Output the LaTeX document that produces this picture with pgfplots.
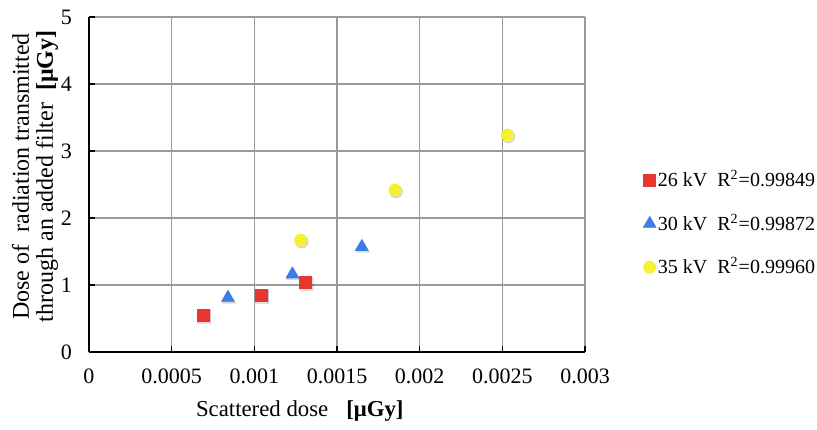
\documentclass[border=0pt]{standalone}
\usepackage{pgfplots}
\pgfplotsset{compat=1.18}
\usepackage{fontspec}
\setmainfont{Liberation Serif}
\definecolor{sqred}{HTML}{E8352E}
\definecolor{triblue}{HTML}{3A7DE6}
\definecolor{dotyellow}{HTML}{F6F032}
\definecolor{gridgray}{HTML}{9A9A9A}

\begin{document}
\begin{tikzpicture}
\begin{axis}[
  at={(0,0)}, anchor=south west,
  scale only axis,
  width=248pt, height=167.5pt,
  xmin=0, xmax=0.003, ymin=0, ymax=5,
  axis x line*=bottom, axis y line*=left,
  axis line style={black, line width=0.9pt},
  xtick={0,0.0005,0.001,0.0015,0.002,0.0025,0.003},
  xticklabels={0,0.0005,0.001,0.0015,0.002,0.0025,0.003},
  ytick={0,1,2,3,4,5},
  yticklabels={0,1,2,3,4,5},
  scaled x ticks=false,
  tick align=inside,
  major tick length=3pt,
  tick style={black, line width=0.6pt},
  grid=major,
  major grid style={gridgray, line width=0.6pt},
  ticklabel style={font=\fontsize{11}{12}\selectfont},
  xticklabel style={yshift=-5pt},
  yticklabel style={xshift=-5pt},
  xlabel={Scattered dose\hspace{9pt}\textbf{[μGy]}},
  xlabel style={at={(axis description cs:0.425,0)}, anchor=center, yshift=-29.5pt,
    font=\fontsize{11.4}{13}\selectfont},
  ylabel={Dose of \ radiation transmitted\\through an added filter \ \textbf{[μGy]}},
  ylabel style={at={(axis description cs:-0.109,0.524)}, anchor=center,
    align=center, font=\fontsize{12}{12}\selectfont},
  legend image code/.code={%
    \draw[mark repeat=2,mark phase=2,#1]
      plot coordinates {(0cm,0cm) (0.1cm,0cm) (0.2cm,0cm)};},
  legend style={at={(rel axis cs:1.105,0.383)}, anchor=west, draw=none, fill=none,
    font=\fontsize{10}{12}\selectfont, row sep=8pt,
    nodes={inner xsep=1pt},
    /tikz/every even column/.append style={column sep=0pt}},
  legend cell align=left,
  clip=false,
]
% soft drop shadows under the markers
\addplot[forget plot, only marks, mark=square*, mark size=3.2pt, black, opacity=0.12,
  mark options={xshift=0.6pt, yshift=-0.8pt}]
  coordinates {(0.00069,0.55) (0.00104,0.85) (0.00131,1.04)};
\addplot[forget plot, only marks, mark=triangle*, mark size=3.8pt, black, opacity=0.12,
  mark options={xshift=0.6pt, yshift=-0.8pt}]
  coordinates {(0.00084,0.81) (0.00123,1.16) (0.00165,1.57)};
\addplot[forget plot, only marks, mark=*, mark size=3.2pt, black, opacity=0.12,
  mark options={xshift=0.6pt, yshift=-0.8pt}]
  coordinates {(0.00128,1.67) (0.00185,2.42) (0.00253,3.24)};
% data series
\addplot[only marks, mark=square*, mark size=3pt, color=sqred]
  coordinates {(0.00069,0.55) (0.00104,0.85) (0.00131,1.04)};
\addlegendentry{26 kV\ \ R\textsuperscript{2}=0.99849}
\addplot[only marks, mark=triangle*, mark size=3.6pt, color=triblue]
  coordinates {(0.00084,0.81) (0.00123,1.16) (0.00165,1.57)};
\addlegendentry{30 kV\ \ R\textsuperscript{2}=0.99872}
\addplot[only marks, mark=*, mark size=3pt, color=dotyellow]
  coordinates {(0.00128,1.67) (0.00185,2.42) (0.00253,3.24)};
\addlegendentry{35 kV\ \ R\textsuperscript{2}=0.99960}
\end{axis}
\pgfresetboundingbox
\path[use as bounding box] (-44.5pt,-38.5pt) rectangle (364pt,176pt);
\end{tikzpicture}
\end{document}
